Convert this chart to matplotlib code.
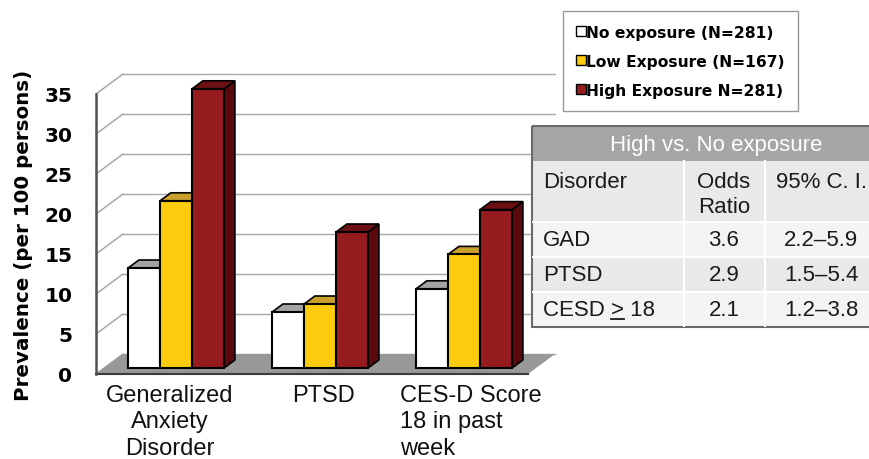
import matplotlib
matplotlib.use("Agg")
import matplotlib.pyplot as plt
from matplotlib.patches import Polygon, Rectangle
from matplotlib.lines import Line2D
from matplotlib.font_manager import FontProperties

# ---------------- data ----------------
categories = ["Generalized\nAnxiety\nDisorder", "PTSD", "CES-D Score\n18 in past\nweek"]
series_names = ["No exposure (N=281)", "Low Exposure (N=167)", "High Exposure N=281)"]
no_exposure = [12.5, 7.0, 9.9]
low_exposure = [20.9, 8.0, 14.2]
high_exposure = [34.9, 17.0, 19.8]
yticks = [0, 5, 10, 15, 20, 25, 30, 35]
ylabel = "Prevalence (per 100 persons)"

table_title = "High vs. No exposure"
table_columns = ["Disorder", "Odds\nRatio", "95% C. I."]
table_disorders = ["GAD", "PTSD", "CESD > 18"]
table_odds = ["3.6", "2.9", "2.1"]
table_ci = ["2.2\u20135.9", "1.5\u20135.4", "1.2\u20133.8"]

# ---------------- style ----------------
front_colors = ["#ffffff", "#fccb0e", "#961b1f"]
top_colors = ["#a3a3a3", "#c9a02c", "#6b1114"]
side_colors = ["#8a8a8a", "#a8841c", "#5a0a0c"]
BOLD = "DejaVu Sans"
ARIAL = "Liberation Sans"

W, H = 869, 460
fig = plt.figure(figsize=(W / 100, H / 100), dpi=100)

ax = fig.add_axes([96 / W, (H - 375) / H, 432 / W, 280 / H])
ax.set_xlim(-0.5, 2.5)
ax.set_ylim(0, 35)
for s in ax.spines.values():
    s.set_visible(False)
ax.set_xticks([])
ax.set_yticks(yticks)
ax.set_yticklabels([str(v) for v in yticks], fontsize=14.5, fontweight="bold", family=BOLD)
ax.tick_params(axis="y", length=0, pad=17)
ax.set_ylabel(ylabel, fontsize=14.3, fontweight="bold", family=BOLD, labelpad=8)
ax.patch.set_alpha(0)

# depth vector (full depth) in data units
DX, DY = 27 / 144, 20 / 8
F0 = 0.3   # bar front depth fraction
FB = 0.4   # bar depth fraction
x0, x1 = -0.5, 2.5

# left wall diagonals and back-wall gridlines
for v in yticks:
    ax.plot([x0, x0 + DX], [v, v + DY], color="#a0a0a0", lw=1.0, clip_on=False, zorder=1)
    ax.plot([x0 + DX, x1 + DX], [v + DY, v + DY], color="#a8a8a8", lw=1.0, clip_on=False, zorder=1)
# floor
ax.add_patch(Polygon([(x0, 0), (x1, 0), (x1 + DX, DY), (x0 + DX, DY)], closed=True,
                     facecolor="#989898", edgecolor="none", clip_on=False, zorder=2))
ax.plot([x0, x1], [0, 0], color="#3a3a3a", lw=1.5, clip_on=False, zorder=3)
ax.plot([x0, x0], [0, 35], color="#505050", lw=1.8, clip_on=False, zorder=3)

# bars
series = [no_exposure, low_exposure, high_exposure]
bw = 32 / 144
base = F0 * DY
bdx, bdy = FB * DX, FB * DY
for g in range(len(categories)):
    for k, vals in enumerate(series):
        xl = g + (k - 1.5) * bw + F0 * DX
        xr = xl + bw
        top = vals[g] + base
        ax.add_patch(Polygon([(xr, base), (xr, top), (xr + bdx, top + bdy), (xr + bdx, base + bdy)],
                             closed=True, facecolor=side_colors[k], edgecolor="black", lw=1.2,
                             clip_on=False, zorder=4 + k))
        ax.add_patch(Polygon([(xl, top), (xr, top), (xr + bdx, top + bdy), (xl + bdx, top + bdy)],
                             closed=True, facecolor=top_colors[k], edgecolor="black", lw=1.2,
                             clip_on=False, zorder=4 + k))
        ax.bar(xl, vals[g], bottom=base, width=bw, align="edge", color=front_colors[k],
               edgecolor="black", linewidth=1.5, clip_on=False, zorder=4 + k)

# category labels
lab_kw = dict(fontsize=17, family=ARIAL, color="#111111", va="top", linespacing=1.27,
              transform=ax.transData, clip_on=False)
ax.text(0.01, -1.2, categories[0], ha="center", multialignment="center", **lab_kw)
ax.text(1.08, -1.2, categories[1], ha="center", **lab_kw)
ax.text(1.61, -1.2, categories[2], ha="left", multialignment="left", **lab_kw)

# legend
handles = [Line2D([], [], marker="s", linestyle="none", markersize=7.5, markerfacecolor=c,
                  markeredgecolor="black", markeredgewidth=1.0) for c in front_colors]
leg = fig.legend(handles, series_names, loc="upper left",
                 bbox_to_anchor=(563 / W, 1 - 12 / H), frameon=True, fancybox=False,
                 prop=dict(family=BOLD, weight="bold", size=11.2), handlelength=0.5,
                 handletextpad=0.1, labelspacing=0.9, borderpad=0.88, borderaxespad=0)
leg.get_frame().set_edgecolor("#808080")
leg.get_frame().set_linewidth(1.0)

# table
tx0, tx1, ty0, ty1 = 532, 900, 127, 328
tax = fig.add_axes([tx0 / W, (H - ty1) / H, (tx1 - tx0) / W, (ty1 - ty0) / H])
tax.set_xlim(tx0, tx1)
tax.set_ylim(ty1, ty0)
tax.axis("off")
row_edges = [127, 162, 223, 258, 293, 328]
row_colors = ["#a6a6a6", "#e9e9e9", "#f4f4f4", "#e9e9e9", "#f4f4f4"]
col_edges = [532, 684, 765, 900]
for i in range(5):
    tax.add_patch(Rectangle((tx0, row_edges[i]), tx1 - tx0, row_edges[i + 1] - row_edges[i],
                            facecolor=row_colors[i], edgecolor="none"))
for i in range(2, 5):
    tax.plot([tx0, tx1], [row_edges[i], row_edges[i]], color="white", lw=1.5)
for c in col_edges[1:3]:
    tax.plot([c, c], [row_edges[1], row_edges[-1]], color="white", lw=1.5)
tax.add_patch(Rectangle((tx0, ty0), tx1 - tx0, ty1 - ty0, facecolor="none",
                        edgecolor="#6a6a6a", lw=1.5, clip_on=False))

tfs = 16
tkw = dict(fontsize=tfs, family=ARIAL, color="#1a1a1a", va="center")
tax.text(716, 145, table_title, ha="center", **dict(tkw, color="white"))
tax.text(543, 182, table_columns[0], ha="left", **tkw)
tax.text(724, 195, table_columns[1], ha="center", multialignment="center", linespacing=1.3, **tkw)
tax.text(821, 182, table_columns[2], ha="center", **tkw)
row_y = [241, 276, 311]
for r in range(3):
    tax.text(543, row_y[r], table_disorders[r], ha="left", **tkw)
    tax.text(724, row_y[r], table_odds[r], ha="center", **tkw)
    tax.text(821, row_y[r], table_ci[r], ha="center", **tkw)

# underline the ">" of the CESD row (meaning >=)
renderer = fig.canvas.get_renderer()
fp = FontProperties(family=ARIAL, size=tfs)
s = table_disorders[2]
idx = s.index(">")
w_pre, _, _ = renderer.get_text_width_height_descent(s[:idx + 1], fp, ismath=False)
w_sym, _, _ = renderer.get_text_width_height_descent(">", fp, ismath=False)
tax.plot([543 + w_pre - w_sym, 543 + w_pre], [row_y[2] + 9, row_y[2] + 9], color="#1a1a1a", lw=1.3)

fig.savefig("out.png", dpi=100)
